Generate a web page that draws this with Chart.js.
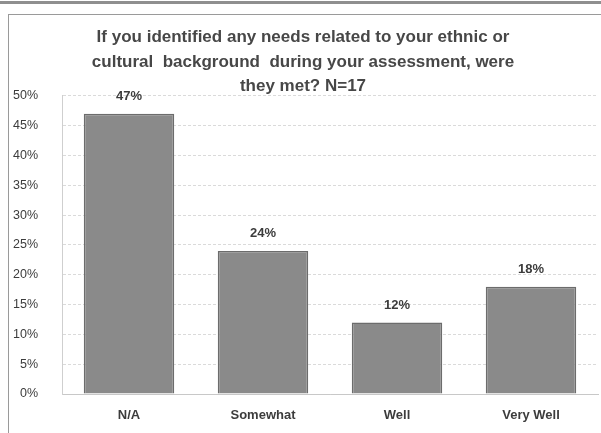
<!DOCTYPE html>
<html>
<head>
<meta charset="utf-8">
<script src="https://cdn.jsdelivr.net/npm/chart.js@4"></script>
<style>
  html, body { margin: 0; padding: 0; background: #fff; }
  #wrap { position: relative; width: 601px; height: 433px; overflow: hidden; }
  #topband { position: absolute; left: 0; top: 1px; width: 601px; height: 3px; background: #8f8f8f; }
  #frame { position: absolute; left: 8px; top: 14px; width: 600px; height: 430px; border: 1px solid #9a9a9a; box-sizing: border-box; pointer-events: none; }
  canvas { position: absolute; left: 0; top: 0; }
</style>
</head>
<body>
<div id="wrap">
  <div id="topband"></div>
  <canvas id="myChart" width="601" height="433"></canvas>
  <div id="frame"></div>
</div>
<script>
   // categories and shares (percent of N=17)
   const labels = ['N/A', 'Somewhat', 'Well', 'Very Well'];
   const values = [47, 24, 12, 18];
   const yTicks = [0, 5, 10, 15, 20, 25, 30, 35, 40, 45, 50];
   const titleLines = [
       'If you identified any needs related to your ethnic or',
       'cultural  background  during your assessment, were',
       'they met? N=17'
   ];

   const textColor = '#3c3c3c';
   const fontFamily = "'Liberation Sans', Arial, sans-serif";

   //    draw the value above each bar
   const valueLabels = {
       id: 'valueLabels',
       afterDatasetsDraw(chart) {
           const ctx = chart.ctx;
           const meta = chart.getDatasetMeta(0);
           ctx.save();
           ctx.font = 'bold 13px ' + fontFamily;
           ctx.fillStyle = textColor;
           ctx.textAlign = 'center';
           ctx.textBaseline = 'bottom';
           meta.data.forEach((bar, i) => {
               ctx.fillText(values[i] + '%', bar.x, bar.y - 11);
           });
           ctx.restore();
       }
   };

   const chartData = {
       labels: labels,
       datasets: [{
           data: values,
           backgroundColor: '#8a8a8a',
           borderColor: '#6c6c6c',
           borderWidth: 1.5,
           barPercentage: 0.675,
           categoryPercentage: 1
       }]
   };

   const config = {
       type: 'bar',
       data: chartData,
       options: {
           responsive: false,
           animation: false,
           layout: {
               padding: { left: 8, right: 3, top: 0, bottom: 0 }
           },
           plugins: {
               legend: { display: false },
               tooltip: { enabled: false },
               title: {
                   display: true,
                   text: titleLines,
                   color: '#474747',
                   font: { family: fontFamily, size: 17, weight: 'bold', lineHeight: 1.45 },
                   padding: { top: 25, bottom: -3 }
               }
           },
           scales: {
               x: {
                   afterFit: scale => { scale.height = 39; },
                   grid: { display: false, drawTicks: false },
                   border: { color: '#c8c8c8' },
                   ticks: {
                       color: textColor,
                       padding: 14,
                       font: { family: fontFamily, size: 13, weight: 'bold' }
                   }
               },
               y: {
                   min: 0,
                   max: 50,
                   afterFit: scale => { scale.width = 54; },
                   afterBuildTicks: scale => {
                       scale.ticks = yTicks.map(v => ({ value: v }));
                   },
                   grid: {
                       color: '#dadada',
                       drawTicks: false
                   },
                   border: { color: '#cfcfcf', dash: [3, 2] },
                   ticks: {
                       color: textColor,
                       padding: 24,
                       font: { family: fontFamily, size: 12.5 },
                       callback: v => v + '%'
                   }
               }
           }
       },
       plugins: [valueLabels]
   };

   new Chart(document.getElementById('myChart'), config);
</script>
</body>
</html>
